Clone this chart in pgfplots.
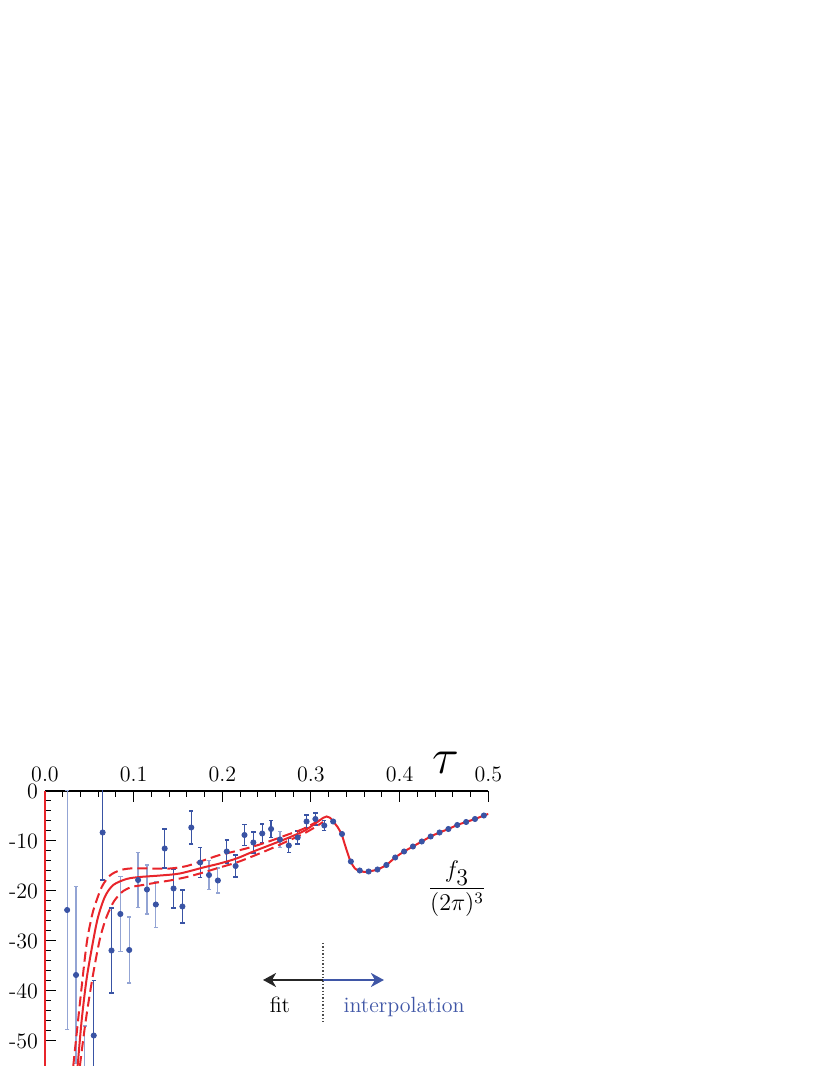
\documentclass[border=0pt]{standalone}
\usepackage{pgfplots}
\usepackage{pgfplotstable}
\pgfplotsset{compat=1.18}
\usetikzlibrary{arrows.meta}

\definecolor{fitred}{HTML}{E8252B}
\definecolor{ptblue}{HTML}{3953A4}
\definecolor{barlight}{HTML}{93A4D4}
\definecolor{arrblue}{HTML}{3F56A6}

% tau, value, error
\pgfplotstableread{
x y e
0.055 -48.9 11.0
0.065 -8.3 9.5
0.075 -31.9 8.5
0.135 -11.5 3.9
0.145 -19.5 3.9
0.155 -23.1 3.3
0.165 -7.3 3.3
0.175 -14.3 3.0
0.205 -12.1 2.3
0.215 -15.0 2.2
0.225 -8.8 2.1
0.235 -10.3 2.1
0.245 -8.5 1.9
0.255 -7.6 1.7
0.275 -10.9 1.4
0.285 -9.3 1.3
0.295 -6.1 1.3
0.305 -5.6 1.2
0.315 -6.9 1.0
}\darkpts

\pgfplotstableread{
x y e
0.025 -23.8 23.9
0.035 -36.8 17.7
0.045 -62.0 15.0
0.085 -24.6 7.5
0.095 -31.8 6.6
0.105 -17.8 5.5
0.115 -19.7 4.9
0.125 -22.7 4.6
0.185 -16.8 2.9
0.195 -17.9 2.5
0.265 -9.7 1.6
}\lightpts

\pgfplotstableread{
x y
0.325 -6.1
0.335 -8.6
0.345 -14.1
0.355 -15.9
0.365 -16.1
0.375 -15.7
0.385 -14.8
0.395 -13.3
0.405 -12.1
0.415 -11.1
0.425 -10.1
0.435 -9.1
0.445 -8.3
0.455 -7.6
0.465 -6.8
0.475 -6.2
0.485 -5.6
0.495 -4.9
}\interpts

\pgfplotsset{
  pts/.style={only marks, mark=*, mark size=1.3pt, color=ptblue},
  bars/.style={error bars/.cd, y dir=both, y explicit,
    error bar style={line width=0.6pt, color=#1},
    error mark options={rotate=90, mark size=1.1pt, line width=0.6pt, color=#1}},
  fitline/.style={fitred, line width=1pt, smooth},
  fitband/.style={fitred, line width=1pt, smooth, dash pattern=on 5pt off 2.5pt},
}

\begin{document}
\begin{tikzpicture}
\useasboundingbox (0,0) rectangle (413pt,534.5pt);
\begin{axis}[
    at={(22.5pt,1.5pt)}, anchor=south west,
    scale only axis, width=221.65pt, height=137.5pt,
    xmin=0, xmax=0.5, ymin=-55, ymax=0,
    axis x line*=top, axis y line*=left,
    x axis line style={line width=0.7pt, black},
    y axis line style={line width=1.4pt, fitred},
    xtick={0,0.1,0.2,0.3,0.4,0.5},
    xticklabels={0.0,0.1,0.2,0.3,0.4,0.5},
    ytick={-50,-40,-30,-20,-10,0},
    yticklabels={-50,-40,-30,-20,-10,0},
    minor x tick num=4, minor y tick num=4,
    tick align=inside,
    major tick length=5.5pt, minor tick length=3pt,
    tick style={black, line width=0.5pt},
    tick label style={font=\fontsize{11}{13}\selectfont},
    xticklabel style={yshift=0.8pt},
  ]
  \addplot[pts, bars=barlight] table[x=x, y=y, y error=e] {\lightpts};
  \addplot[pts, bars=ptblue] table[x=x, y=y, y error=e] {\darkpts};
  \addplot[pts] table[x=x, y=y] {\interpts};

  % upper and lower band of the fit
  \addplot[fitband] coordinates {(0.0305,-58) (0.032,-54.8) (0.0414,-39.1)
    (0.047,-30.5) (0.0519,-25.8) (0.0555,-23.3) (0.064,-19.2) (0.0733,-16.9)
    (0.084,-15.9) (0.096,-15.5) (0.118,-15.5) (0.141,-15.5) (0.16,-15.0)
    (0.1785,-13.9) (0.197,-12.8) (0.216,-12.0) (0.235,-11.1) (0.254,-10.0)
    (0.2726,-8.8) (0.291,-7.6) (0.305,-6.3) (0.3135,-5.4)};
  \addplot[fitband] coordinates {(0.038,-58) (0.0395,-54.8) (0.0455,-46.5)
    (0.0519,-39.1) (0.058,-33) (0.063,-28.8) (0.0696,-25.1) (0.078,-22.0)
    (0.0883,-20.0) (0.098,-19.2) (0.107,-18.9) (0.13,-18.2) (0.141,-17.9)
    (0.16,-17.2) (0.1785,-16.3) (0.197,-15.3) (0.216,-14.3) (0.235,-13.0)
    (0.254,-11.6) (0.2726,-10.1) (0.291,-8.6) (0.305,-7.2) (0.3135,-6.2)};
  % central fit, continued through the interpolation
  \addplot[fitline] coordinates {(0.0353,-58) (0.0369,-54.8) (0.0414,-45.8)
    (0.047,-37.5) (0.0545,-29.8) (0.060,-25.1) (0.0677,-21.1) (0.077,-18.8)
    (0.092,-17.6) (0.107,-17.2) (0.13,-16.9) (0.152,-16.5) (0.1785,-15.3)
    (0.197,-14.5) (0.216,-13.5) (0.235,-12.1) (0.254,-10.8) (0.2726,-9.5)
    (0.291,-8.1) (0.30,-7.1) (0.308,-6.1) (0.314,-5.35) (0.3177,-5.1)
    (0.3215,-5.35) (0.325,-6.1) (0.330,-7.2) (0.3346,-8.7) (0.338,-10.6)
    (0.342,-12.8) (0.345,-14.2) (0.3496,-15.5) (0.355,-16.0) (0.362,-16.2)
    (0.368,-16.0) (0.375,-15.7) (0.385,-14.8) (0.395,-13.3) (0.405,-12.1)
    (0.415,-11.1) (0.425,-10.1) (0.435,-9.1) (0.445,-8.3) (0.455,-7.6)
    (0.465,-6.8) (0.475,-6.2) (0.485,-5.6) (0.495,-4.9) (0.5,-4.6)};

  \draw[densely dotted, line width=0.7pt, black!70]
    (axis cs:0.3135,-30.4) -- (axis cs:0.3135,-46.2);
  \draw[line width=1.4pt, black!85, -{Stealth[length=6.5pt,width=7pt,inset=2pt]}]
    (axis cs:0.3135,-37.8) -- (axis cs:0.2459,-37.8);
  \draw[line width=1.4pt, arrblue, -{Stealth[length=6.5pt,width=7pt,inset=2pt]}]
    (axis cs:0.3135,-37.8) -- (axis cs:0.3823,-37.8);
  \node[anchor=base, font=\fontsize{11}{13}\selectfont] at (axis cs:0.265,-44.4) {fit};
  \node[anchor=base, font=\fontsize{11}{13}\selectfont, text=arrblue]
    at (axis cs:0.405,-44.4) {interpolation};
\end{axis}
\node[font=\Huge] at (223pt,153.25pt) {$\tau$};
\node at (228.5pt,90pt) {\large$\displaystyle\frac{f_{\textstyle 3}}{(2\pi)^3}$};
\end{tikzpicture}
\end{document}
